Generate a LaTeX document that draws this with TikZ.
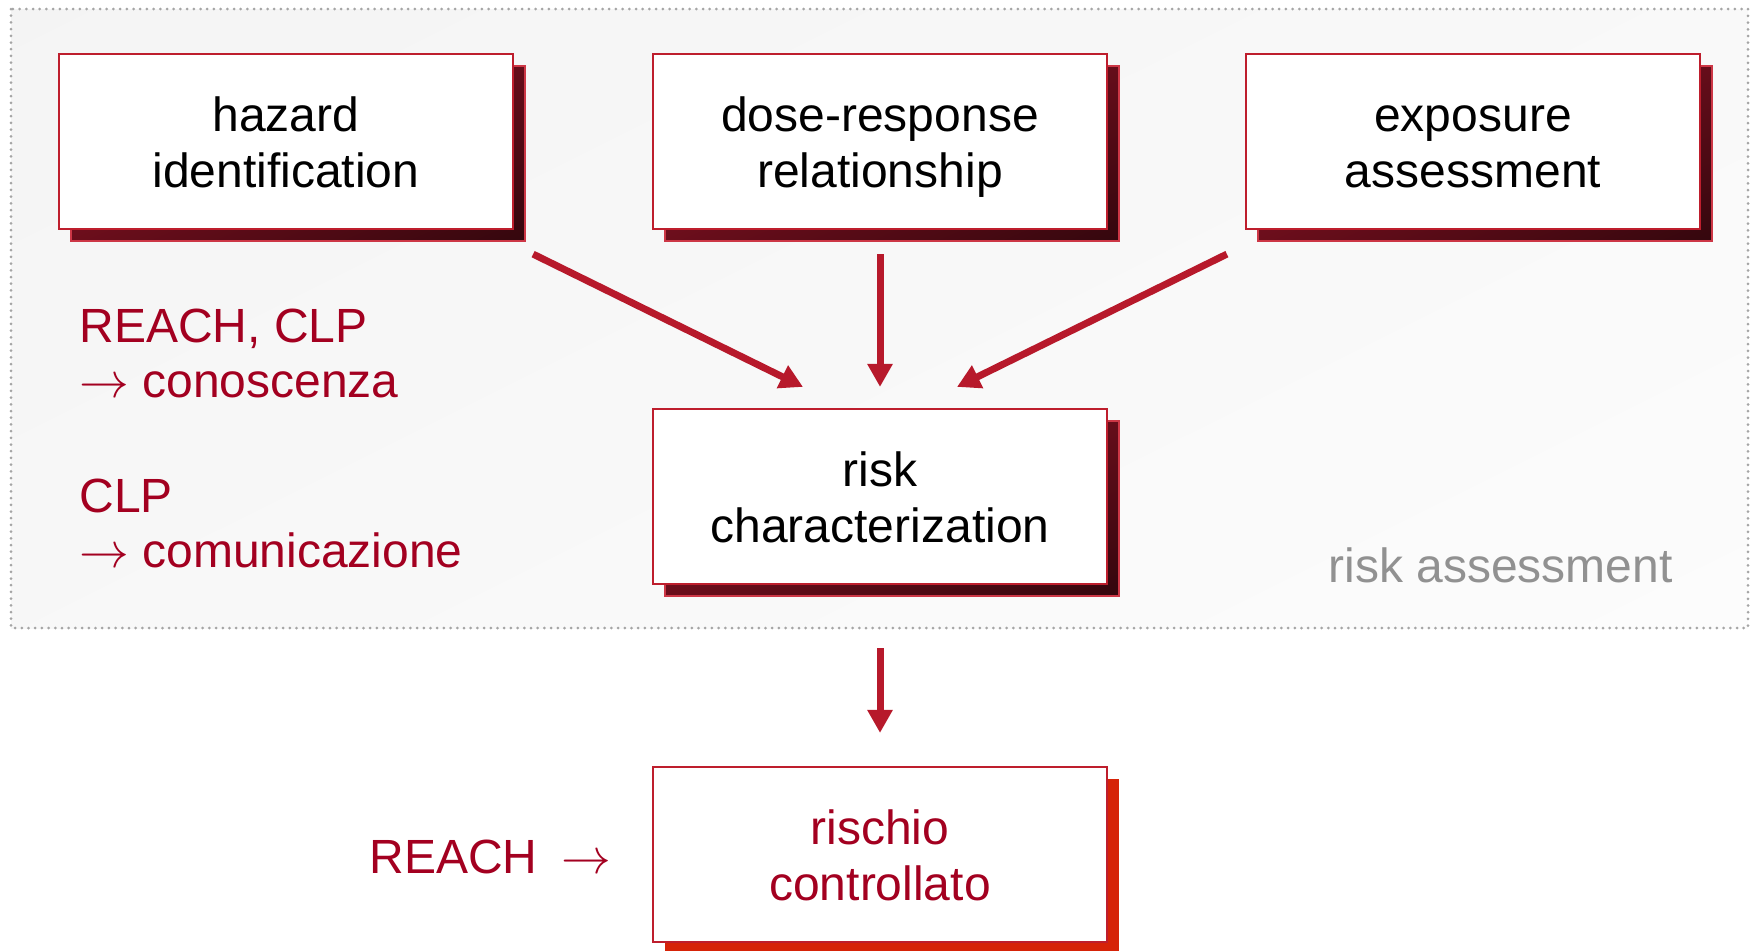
\documentclass[tikz,border=0pt]{standalone}
\usepackage{fontspec}
\setmainfont{Liberation Sans}
\usetikzlibrary{arrows.meta,shadows}

\definecolor{boxred}{RGB}{190,30,45}
\definecolor{shadowedge}{RGB}{205,55,70}
\definecolor{arrowred}{RGB}{183,25,43}
\definecolor{textred}{RGB}{163,0,32}
\definecolor{brightred}{RGB}{214,35,8}
\definecolor{dotgray}{RGB}{165,165,165}
\definecolor{labelgray}{RGB}{145,145,145}

% shadow colour: maroon at the lower left, fading to black towards the lower right
\pgfdeclarefunctionalshading{maroonfade}{\pgfpoint{0bp}{0bp}}{\pgfpoint{100bp}{100bp}}{}{%
  exch 0.01 mul neg 1 add exch 0.009 mul add
  dup 0.43 mul exch dup 0.055 mul exch 0.11 mul}
% soft grey backdrop, lighter towards the lower right
\pgfdeclarefunctionalshading{backdrop}{\pgfpoint{0bp}{0bp}}{\pgfpoint{100bp}{100bp}}{}{%
  exch 0.00035 mul exch 0.00025 mul neg add 0.968 add dup dup}

\begin{document}
\begin{tikzpicture}[x=0.5pt,y=-0.5pt,
  stepbox/.style={draw=boxred, line width=1.1pt, fill=white,
    minimum width=227pt, minimum height=87.5pt, inner sep=0pt,
    text height=45.5pt, text depth=0pt,
    align=center, font=\fontsize{24pt}{28pt}\selectfont},
  darkshadow/.style={general shadow={shadow xshift=6pt, shadow yshift=-6pt,
    draw=shadowedge, line width=0.8pt, shade, shading=maroonfade}},
  redshadow/.style={general shadow={shadow xshift=6pt, shadow yshift=-6pt,
    fill=brightred}},
  arr/.style={draw=arrowred, line width=3.5pt,
    -{Triangle[length=11.5pt,width=12pt]}},
  note/.style={text=textred, align=left, inner sep=0pt,
    font=\fontsize{24pt}{27.5pt}\selectfont},
]
\useasboundingbox (0,0) rectangle (1755,950);

% risk assessment area
\path[shade, shading=backdrop] (11,9) rectangle (1748,628);
\draw[dotgray, line width=1.5pt, line cap=round, dash pattern=on 0pt off 3.35pt]
  (11,9) rectangle (1748,628);
\node[text=labelgray, anchor=base west, inner sep=0pt,
  font=\fontsize{24pt}{28pt}\selectfont] (ra) at (1328,582) {risk assessment};

% steps
\node[stepbox, darkshadow] (hz) at (286,141.5) {hazard\\identification};
\node[stepbox, darkshadow] (dr) at (880,141.5) {dose-response\\relationship};
\node[stepbox, darkshadow] (ex) at (1473,141.5) {exposure\\assessment};
\node[stepbox, darkshadow] (rc) at (880,496.5) {risk\\characterization};
\node[stepbox, redshadow, text=textred] (rs) at (880,854.5) {rischio\\controllato};

% connectors
\draw[arr] ([shift={(19,24)}]hz.south east) -- ([shift={(-77,-21)}]rc.north);
\draw[arr] ([shift={(0,24)}]dr.south) -- ([shift={(0,-21)}]rc.north);
\draw[arr] ([shift={(-18,24)}]ex.south west) -- ([shift={(77,-21)}]rc.north);
\draw[arr] ([shift={(0,63)}]rc.south) -- ([shift={(0,-33)}]rs.north);

% regulations
\node[note, anchor=base west] (kn) at (79,397) {REACH, CLP\\$\rightarrow$ conoscenza};
\node[note, anchor=base west] (cm) at (79,567) {CLP\\$\rightarrow$ comunicazione};
\node[note, anchor=base west] (re) at (369,873) {REACH\hspace{12pt}$\rightarrow$};
\end{tikzpicture}
\end{document}
